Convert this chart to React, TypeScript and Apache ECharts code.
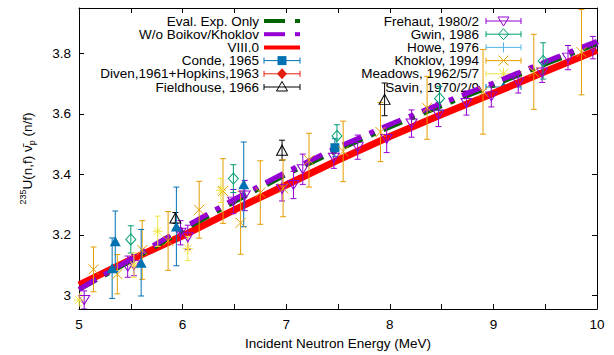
import React, { useEffect, useRef } from "react";
import * as echarts from "echarts";

// ---- evaluation curves (x: incident energy, MeV) ----
const energyGrid = [5, 5.5, 6, 6.5, 7, 7.5, 8, 8.5, 9, 9.5, 10];
const evalExpOnly = [3.02, 3.115, 3.215, 3.31, 3.4, 3.482, 3.557, 3.627, 3.695, 3.765, 3.832];
const woBoikovKhoklov = [3.02, 3.12, 3.222, 3.318, 3.408, 3.49, 3.565, 3.635, 3.702, 3.772, 3.84];
const viii0 = [3.035, 3.118, 3.197, 3.283, 3.365, 3.447, 3.525, 3.598, 3.668, 3.74, 3.81];

// ---- experimental data: [E (MeV), nu_p, uncertainty] ----
const conde = [[7.47, 3.488, 0.03]];
const diven: number[][] = [];
const fieldhouse = [
  [5.93, 3.256, 0.018],
  [6.96, 3.48, 0.033],
  [7.95, 3.648, 0.054],
];
const frehaut = [
  [5.05, 2.985, 0.03], [5.47, 3.095, 0.035], [5.53, 3.1, 0.035], [5.98, 3.207, 0.04],
  [6.05, 3.192, 0.04], [6.49, 3.31, 0.04], [6.6, 3.33, 0.05], [6.96, 3.352, 0.04],
  [7.07, 3.365, 0.045], [7.16, 3.417, 0.05], [7.46, 3.455, 0.035], [7.69, 3.49, 0.04],
  [7.97, 3.517, 0.045], [8.21, 3.568, 0.045], [8.47, 3.598, 0.04], [8.74, 3.636, 0.04],
  [8.98, 3.658, 0.035], [9.24, 3.704, 0.035], [9.47, 3.737, 0.033], [9.72, 3.786, 0.04],
  [9.96, 3.819, 0.037],
];
const gwin = [
  [5.5, 3.185, 0.045], [6.49, 3.386, 0.046], [7.49, 3.527, 0.037], [8.48, 3.651, 0.04], [9.48, 3.775, 0.06],
];
const howe: number[][] = [];
const khoklov = [
  [5.14, 3.086, 0.074], [5.37, 3.07, 0.065], [5.61, 3.15, 0.097], [5.86, 3.18, 0.097],
  [6.16, 3.283, 0.094], [6.39, 3.345, 0.107], [6.56, 3.24, 0.104], [6.75, 3.34, 0.105],
  [6.97, 3.354, 0.094], [7.22, 3.447, 0.089], [7.55, 3.476, 0.1], [7.91, 3.54, 0.098],
  [8.36, 3.62, 0.104], [8.9, 3.673, 0.14], [9.39, 3.739, 0.124], [9.85, 3.804, 0.141],
];
const meadows = [
  [5.0, 2.985, 0.02], [5.53, 3.1, 0.04], [5.76, 3.212, 0.05], [6.05, 3.155, 0.04], [6.37, 3.347, 0.04],
];
const savin = [
  [5.32, 3.09, 0.1], [5.35, 3.179, 0.1], [5.6, 3.108, 0.11], [5.94, 3.228, 0.13], [6.59, 3.367, 0.14],
];

// ---- axis ticks ----
const xTicks = [5, 5.5, 6, 6.5, 7, 7.5, 8, 8.5, 9, 9.5, 10];
const yTicks = [3, 3.2, 3.4, 3.6, 3.8];

const FONT = '"Liberation Sans", Arial, Helvetica, sans-serif';

const C = {
  green: "#006400",
  violet: "#9400d3",
  red: "#ff0000",
  blue: "#0072b2",
  dred: "#e51e10",
  black: "#000000",
  teal: "#009e73",
  sky: "#56b4e9",
  orange: "#e69f00",
  yellow: "#f0e442",
};

const P_X = "path://M0,0 L10,10 M10,0 L0,10";
const P_PLUS = "path://M5,0 L5,10 M0,5 L10,5";
const P_STAR = "path://M0,0 L10,10 M10,0 L0,10 M5,-1.5 L5,11.5 M-1.5,5 L11.5,5";

function errBars(name: string, data: number[][], color: string) {
  return {
    type: "custom",
    name: name + " err",
    silent: true,
    z: 4,
    clip: true,
    data: data.map((d) => [d[0], d[1] - d[2], d[1] + d[2]]),
    encode: { x: 0, y: [1, 2] },
    renderItem: (_p: any, api: any) => {
      const x = api.value(0);
      const top = api.coord([x, api.value(2)]);
      const bot = api.coord([x, api.value(1)]);
      const cw = 3;
      const st = { stroke: color, lineWidth: 1 };
      return {
        type: "group",
        children: [
          { type: "line", shape: { x1: top[0], y1: top[1], x2: bot[0], y2: bot[1] }, style: st },
          { type: "line", shape: { x1: top[0] - cw, y1: top[1], x2: top[0] + cw, y2: top[1] }, style: st },
          { type: "line", shape: { x1: bot[0] - cw, y1: bot[1], x2: bot[0] + cw, y2: bot[1] }, style: st },
        ],
      };
    },
  };
}

function points(name: string, data: number[][], color: string, symbol: string, size: any, filled: boolean, rotate = 0) {
  return {
    type: "scatter",
    name,
    z: 5,
    data: data.map((d) => [d[0], d[1]]),
    symbol,
    symbolSize: size,
    symbolRotate: rotate,
    itemStyle: {
      color: filled ? color : "rgba(0,0,0,0)",
      borderColor: color,
      borderWidth: filled ? 0 : 1,
      opacity: 1,
    },
  };
}

function curve(name: string, ys: number[], color: string, width: number, dash: any, z: number) {
  return {
    type: "line",
    name,
    z,
    showSymbol: false,
    symbol: "none",
    data: energyGrid.map((x, i) => [x, ys[i]]),
    lineStyle: { color, width, type: dash, cap: "butt", join: "miter" },
  };
}

// ---- legend built from graphic elements ----
function legendGraphic() {
  const rows = [21, 34.2, 47.4, 60.6, 73.8, 87];
  const els: any[] = [];
  const text = (x: number, y: number, s: string) =>
    els.push({
      type: "text",
      x,
      y,
      style: { text: s, fill: "#000", font: `13.5px ${FONT}`, align: "right", verticalAlign: "middle" },
    });
  const ln = (x1: number, y1: number, x2: number, y2: number, stroke: string, lw = 1, dash?: number[]) =>
    els.push({ type: "line", shape: { x1, y1, x2, y2 }, style: { stroke, lineWidth: lw, lineDash: dash } });
  const bar = (x1: number, x2: number, y: number, color: string) => {
    ln(x1, y, x2, y, color);
    ln(x1, y - 3, x1, y + 3, color);
    ln(x2, y - 3, x2, y + 3, color);
  };
  const poly = (pts: number[][], color: string, filled: boolean) =>
    els.push({
      type: "polygon",
      shape: { points: pts },
      style: { fill: filled ? color : "rgba(0,0,0,0)", stroke: color, lineWidth: filled ? 0 : 1 },
    });

  // left column
  const L1 = 264, L2 = 300, LC = 282, LT = 259;
  text(LT, rows[0], "Eval. Exp. Only");
  ln(L1, rows[0], L1 + 21, rows[0], C.green, 4);
  ln(L2 - 5, rows[0], L2, rows[0], C.green, 4);
  text(LT, rows[1], "W/o Boikov/Khoklov");
  ln(L1, rows[1], L1 + 21, rows[1], C.violet, 4);
  ln(L2 - 5, rows[1], L2, rows[1], C.violet, 4);
  text(LT, rows[2], "VIII.0");
  ln(L1, rows[2], L2, rows[2], C.red, 4);
  text(LT, rows[3], "Conde, 1965");
  bar(L1, L2, rows[3], C.blue);
  els.push({ type: "rect", shape: { x: LC - 4.5, y: rows[3] - 4.5, width: 9, height: 9 }, style: { fill: C.blue } });
  text(LT, rows[4], "Diven,1961+Hopkins,1963");
  bar(L1, L2, rows[4], C.dred);
  poly([[LC, rows[4] - 5.5], [LC + 5, rows[4]], [LC, rows[4] + 5.5], [LC - 5, rows[4]]], C.dred, true);
  text(LT, rows[5], "Fieldhouse, 1966");
  bar(L1, L2, rows[5], C.black);
  poly([[LC, rows[5] - 5.5], [LC + 5.5, rows[5] + 4], [LC - 5.5, rows[5] + 4]], C.black, false);

  // right column
  const R1 = 486, R2 = 521, RC = 503.5, RT = 479;
  text(RT, rows[0], "Frehaut, 1980/2");
  bar(R1, R2, rows[0], C.violet);
  poly([[RC, rows[0] + 5], [RC + 5.5, rows[0] - 4], [RC - 5.5, rows[0] - 4]], C.violet, false);
  text(RT, rows[1], "Gwin, 1986");
  bar(R1, R2, rows[1], C.teal);
  poly([[RC, rows[1] - 5.5], [RC + 5, rows[1]], [RC, rows[1] + 5.5], [RC - 5, rows[1]]], C.teal, false);
  text(RT, rows[2], "Howe, 1976");
  bar(R1, R2, rows[2], C.sky);
  ln(RC, rows[2] - 5, RC, rows[2] + 5, C.sky);
  text(RT, rows[3], "Khoklov, 1994");
  bar(R1, R2, rows[3], C.orange);
  ln(RC - 5, rows[3] - 5, RC + 5, rows[3] + 5, C.orange);
  ln(RC - 5, rows[3] + 5, RC + 5, rows[3] - 5, C.orange);
  text(RT, rows[4], "Meadows, 1962/5/7");
  bar(R1, R2, rows[4], C.yellow);
  ln(RC - 5, rows[4] - 5, RC + 5, rows[4] + 5, C.yellow);
  ln(RC - 5, rows[4] + 5, RC + 5, rows[4] - 5, C.yellow);
  ln(RC, rows[4] - 6, RC, rows[4] + 6, C.yellow);
  text(RT, rows[5], "Savin, 1970/2/9");
  bar(R1, R2, rows[5], C.blue);
  poly([[RC, rows[5] - 5.5], [RC + 5.5, rows[5] + 4], [RC - 5.5, rows[5] + 4]], C.blue, true);
  return els;
}

export default function App() {
  const ref = useRef<HTMLDivElement>(null);
  useEffect(() => {
    if (!ref.current) return;
    const chart = echarts.init(ref.current, null, { renderer: "svg" });
    const tickStyle = { inside: true, length: 5, lineStyle: { color: "#000", width: 1 } };
    const xBase = {
      type: "value",
      min: 5,
      max: 10,
      interval: 0.5,
      splitLine: { show: false },
      axisLine: { show: true, onZero: false, lineStyle: { color: "#000", width: 1 } },
    };
    const yBase = {
      type: "value",
      min: 2.955,
      max: 3.95,
      splitLine: { show: false },
      axisLine: { show: true, onZero: false, lineStyle: { color: "#000", width: 1 } },
    };
    chart.setOption({
      animation: false,
      grid: { left: 79, right: 17, top: 8, bottom: 43, containLabel: false },
      xAxis: [
        {
          ...xBase,
          position: "bottom",
          axisTick: tickStyle,
          axisLabel: {
            color: "#000",
            fontSize: 13.5,
            fontFamily: FONT,
            margin: 8,
            formatter: (v: number) => (Number.isInteger(v) ? String(v) : ""),
          },
          name: "Incident Neutron Energy (MeV)",
          nameLocation: "middle",
          nameGap: 27,
          nameTextStyle: { color: "#000", fontSize: 13.5, fontFamily: FONT },
        },
        { ...xBase, position: "top", axisTick: tickStyle, axisLabel: { show: false } },
      ],
      yAxis: [
        {
          ...yBase,
          position: "left",
          axisTick: { ...tickStyle, customValues: yTicks },
          axisLabel: {
            color: "#000",
            fontSize: 13.5,
            fontFamily: FONT,
            margin: 8,
            customValues: yTicks,
            formatter: (v: number) => String(Math.round(v * 10) / 10),
          },
          name: "{sup|235}{n|U(n,f) ν\u0304}{sub|p}{n| (n/f)}",
          nameLocation: "middle",
          nameGap: 42,
          nameRotate: 90,
          nameTextStyle: {
            color: "#000",
            fontSize: 13.5,
            fontFamily: FONT,
            rich: {
              n: { fontSize: 13.5, fontFamily: FONT, color: "#000", lineHeight: 20, verticalAlign: "middle" },
              sup: { fontSize: 9, fontFamily: FONT, color: "#000", lineHeight: 20, verticalAlign: "top", padding: [1, 0, 0, 0] },
              sub: { fontSize: 9, fontFamily: FONT, color: "#000", lineHeight: 20, verticalAlign: "bottom", padding: [0, 0, 1, 0] },
            },
          },
        },
        {
          ...yBase,
          position: "right",
          axisTick: { ...tickStyle, customValues: yTicks },
          axisLabel: { show: false },
        },
      ],
      graphic: legendGraphic(),
      series: [
        curve("VIII.0", viii0, C.red, 7, "solid", 1),
        curve("Eval. Exp. Only", evalExpOnly, C.green, 5, [20, 9, 5, 9], 2),
        curve("W/o Boikov/Khoklov", woBoikovKhoklov, C.violet, 5, [20, 9, 5, 9], 3),
        errBars("Conde, 1965", conde, C.blue),
        points("Conde, 1965", conde, C.blue, "rect", 9, true),
        errBars("Diven,1961+Hopkins,1963", diven, C.dred),
        points("Diven,1961+Hopkins,1963", diven, C.dred, "diamond", [10, 11], true),
        errBars("Fieldhouse, 1966", fieldhouse, C.black),
        points("Fieldhouse, 1966", fieldhouse, C.black, "triangle", [11, 10], false),
        errBars("Frehaut, 1980/2", frehaut, C.violet),
        points("Frehaut, 1980/2", frehaut, C.violet, "triangle", [11, 9], false, 180),
        errBars("Gwin, 1986", gwin, C.teal),
        points("Gwin, 1986", gwin, C.teal, "diamond", [10, 11], false),
        errBars("Howe, 1976", howe, C.sky),
        points("Howe, 1976", howe, C.sky, P_PLUS, 10, false),
        errBars("Khoklov, 1994", khoklov, C.orange),
        points("Khoklov, 1994", khoklov, C.orange, P_X, 10, false),
        errBars("Meadows, 1962/5/7", meadows, C.yellow),
        points("Meadows, 1962/5/7", meadows, C.yellow, P_STAR, 10, false),
        errBars("Savin, 1970/2/9", savin, C.blue),
        points("Savin, 1970/2/9", savin, C.blue, "triangle", [11, 10], true),
      ],
    });
    return () => chart.dispose();
  }, []);
  return (
    <div
      ref={ref}
      style={{ position: "fixed", left: 0, top: 0, width: 614, height: 355, background: "#fff" }}
    />
  );
}
